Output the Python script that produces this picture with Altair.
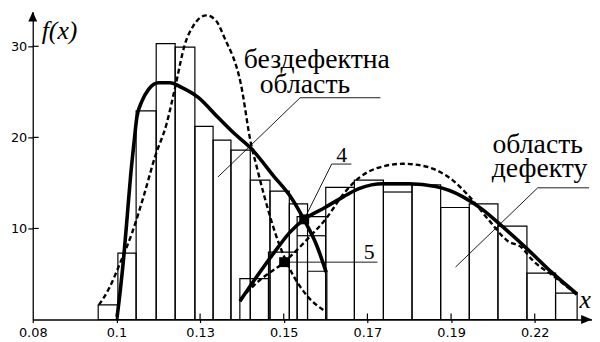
import altair as alt
import pandas as pd

# ---- axes ----
x_ticks = [0.08, 0.1025, 0.125, 0.1475, 0.17, 0.1925, 0.215]
x_tick_labels = ["0.08", "0.1", "0.13", "0.15", "0.17", "0.19", "0.22"]
y_ticks = [10, 20, 30]
x_min, x_max = 0.08, 0.2304
y_min, y_max = 0, 33.8

# ---- histogram 1 (defect-free region) ----
h1_left = [0.0976, 0.1029, 0.1078, 0.1132, 0.1183, 0.1236, 0.1285, 0.1333, 0.1385, 0.1438, 0.1490, 0.1539]
h1_right = [0.1029, 0.1078, 0.1132, 0.1183, 0.1236, 0.1285, 0.1333, 0.1385, 0.1438, 0.1490, 0.1539, 0.1591]
h1_top = [1.6, 7.3, 22.9, 30.3, 29.9, 21.2, 19.7, 18.6, 15.3, 14.1, 12.7, 5.3]

# ---- histogram 2 (defect region) ----
h2_left = [0.1357, 0.1434, 0.1511, 0.1588, 0.1665, 0.1743, 0.1820, 0.1897, 0.1974, 0.2051, 0.2129, 0.2206]
h2_right = [0.1434, 0.1511, 0.1588, 0.1665, 0.1743, 0.1820, 0.1897, 0.1974, 0.2051, 0.2129, 0.2206, 0.2264]
h2_top = [4.5, 7.4, 11.3, 14.5, 15.3, 14.8, 14.8, 12.3, 12.7, 10.25, 5.1, 2.9]
# inner bin lines of histogram 2
h2b_left = [0.1511, 0.1743]
h2b_right = [0.1588, 0.1820]
h2b_top = [9.2, 14.0]

# ---- fitted curves ----
c1_x = [0.1027, 0.1036, 0.1045, 0.1054, 0.1063, 0.1072, 0.1080, 0.1094, 0.1112, 0.1138, 0.1169,
        0.1200, 0.1245, 0.1298, 0.1340, 0.1387, 0.1449, 0.1493, 0.1529, 0.1564, 0.1589]
c1_y = [0.3, 3.4, 7.0, 11.3, 15.7, 19.3, 22.2, 24.0, 25.3, 26.0, 26.0,
        25.5, 24.4, 22.2, 20.5, 18.8, 15.7, 13.5, 11.0, 8.1, 5.2]

d1_x = [0.0978, 0.1005, 0.1036, 0.1067, 0.1098, 0.1129, 0.1160, 0.1183, 0.1209, 0.1231, 0.1267,
        0.1293, 0.1316, 0.1360, 0.1386, 0.1404, 0.1423, 0.1458, 0.1492, 0.1538, 0.1583]
d1_y = [1.6, 3.4, 6.3, 9.5, 13.5, 17.9, 21.5, 25.5, 30.2, 32.2, 33.4,
        32.8, 30.9, 25.8, 19.5, 16.5, 13.5, 8.8, 5.5, 2.6, 1.0]

c2_x = [0.1357, 0.1404, 0.1450, 0.1492, 0.1530, 0.1586, 0.1636, 0.1679, 0.1743, 0.1812, 0.1884,
        0.1956, 0.2009, 0.2062, 0.2131, 0.2195, 0.2264]
c2_y = [2.0, 4.8, 7.4, 9.6, 11.0, 12.3, 13.5, 14.4, 14.9, 14.9, 14.6,
        13.5, 12.1, 10.25, 7.7, 5.2, 2.8]

d2_x = [0.1359, 0.1410, 0.1476, 0.1538, 0.1591, 0.1636, 0.1679, 0.1724, 0.1796, 0.1857, 0.1929,
        0.1972, 0.2025, 0.2078, 0.2115, 0.2142, 0.2203, 0.2264]
d2_y = [2.3, 4.3, 6.3, 8.8, 11.2, 13.8, 15.6, 16.6, 17.1, 16.8, 15.3,
        13.6, 11.0, 8.6, 7.9, 6.6, 4.7, 2.7]

# ---- markers (points 4 and 5) ----
mk_x = [0.1530, 0.1476]
mk_y = [11.0, 6.3]

# ---- annotations ----
txt = ["бездефектна", "область", "область", "дефекту", "4", "5"]
txt_x = [0.1564, 0.1532, 0.2158, 0.2163, 0.1631, 0.1705]
txt_y = [27.6, 24.9, 18.3, 15.65, 17.3, 6.6]
txt_size = [28, 28, 28, 28, 22, 22]

lead_x = [0.1519, 0.1519, 0.1604, 0.1604, 0.1476, 0.2158, 0.2158]
lead_x2 = [0.1735, 0.1298, 0.1657, 0.1530, 0.1727, 0.2296, 0.1937]
lead_y = [24.35, 24.35, 17.07, 17.07, 6.3, 14.46, 14.46]
lead_y2 = [24.35, 15.65, 17.07, 11.0, 6.3, 14.46, 5.76]

SERIF = "Liberation Serif"

X = alt.X("x:Q", scale=alt.Scale(domain=[x_min, x_max], nice=False, zero=False),
          axis=alt.Axis(values=x_ticks, title=None, grid=False,
                        labelExpr="[" + ",".join("'%s'" % s for s in x_tick_labels) + "][round((datum.value-0.08)/0.0225)]",
                        tickSize=3, labelPadding=4, labelFlush=False))
Y = alt.Y("y:Q", scale=alt.Scale(domain=[y_min, y_max], nice=False),
          axis=alt.Axis(values=y_ticks, title=None, grid=False, tickSize=5, labelPadding=1))

h1 = pd.DataFrame({"x": h1_left, "x2": h1_right, "y": [0] * len(h1_top), "y2": h1_top})
h2 = pd.DataFrame({"x": h2_left, "x2": h2_right, "y": [0] * len(h2_top), "y2": h2_top})
h2b = pd.DataFrame({"x": h2b_left, "x2": h2b_right, "y": h2b_top, "y2": h2b_top})

def bars(df):
    return alt.Chart(df).mark_rect(fillOpacity=0, stroke="black", strokeWidth=1.2).encode(
        x=X, x2="x2:Q", y=Y, y2="y2:Q")

layers = [bars(h1), bars(h2),
          alt.Chart(h2b).mark_rule(color="black", strokeWidth=1.2).encode(x=X, x2="x2:Q", y=Y)]

def curve(xs, ys, dashed):
    df = pd.DataFrame({"x": xs, "y": ys, "o": list(range(len(xs)))})
    kw = dict(color="black", interpolate="monotone")
    if dashed:
        kw.update(strokeWidth=2.4, strokeDash=[5, 3])
    else:
        kw.update(strokeWidth=3.6)
    return alt.Chart(df).mark_line(**kw).encode(x=X, y=Y, order="o:Q")

layers += [curve(d1_x, d1_y, True), curve(d2_x, d2_y, True),
           curve(c1_x, c1_y, False), curve(c2_x, c2_y, False)]

mk = pd.DataFrame({"x": mk_x, "y": mk_y})
layers.append(alt.Chart(mk).mark_point(shape="square", size=100, filled=True, color="black", opacity=1)
              .encode(x=X, y=Y))

ld = pd.DataFrame({"x": lead_x, "x2": lead_x2, "y": lead_y, "y2": lead_y2})
layers.append(alt.Chart(ld).mark_rule(color="black", strokeWidth=0.9).encode(x=X, x2="x2:Q", y=Y, y2="y2:Q"))

# inner parts of ticks
xt = pd.DataFrame({"x": x_ticks[1:], "y": [0] * (len(x_ticks) - 1), "y2": [0.65] * (len(x_ticks) - 1)})
layers.append(alt.Chart(xt).mark_rule(color="black", strokeWidth=1.2).encode(x=X, y=Y, y2="y2:Q"))
yt = pd.DataFrame({"x": [x_min] * len(y_ticks), "x2": [0.0816] * len(y_ticks), "y": y_ticks})
layers.append(alt.Chart(yt).mark_rule(color="black", strokeWidth=1.2).encode(x=X, x2="x2:Q", y=Y))

for t, tx, ty, ts in zip(txt, txt_x, txt_y, txt_size):
    layers.append(alt.Chart(pd.DataFrame({"x": [tx], "y": [ty], "t": [t]})).mark_text(
        font=SERIF, fontSize=ts, baseline="alphabetic", align="center", color="black"
    ).encode(x=X, y=Y, text="t:N"))

# axis titles f(x) and x
for t, tx, ty in [("f(x)", 0.0872, 30.8), ("x", 0.2286, 1.3)]:
    layers.append(alt.Chart(pd.DataFrame({"x": [tx], "y": [ty], "t": [t]})).mark_text(
        font=SERIF, fontSize=26, fontStyle="italic", baseline="alphabetic",
        align="center", color="black").encode(x=X, y=Y, text="t:N"))

# axis arrows
layers.append(alt.Chart(pd.DataFrame({"x": [x_min], "y": [y_max]})).mark_point(
    shape="M0,0L0.9,2L-0.9,2Z", size=100, filled=True, color="black", opacity=1).encode(x=X, y=Y))
layers.append(alt.Chart(pd.DataFrame({"x": [x_max], "y": [0]})).mark_point(
    shape="M0,0L-2.2,0.9L-2.2,-0.9Z", size=100, filled=True, color="black", opacity=1).encode(x=X, y=Y))

chart = alt.layer(*layers).properties(
    width=565, height=311,
    autosize=alt.AutoSizeParams(type="none"),
    padding={"left": 25, "top": 2, "right": 0, "bottom": 22},
    background="white",
).configure_view(stroke=None).configure_axis(
    domainColor="black", domainWidth=1.3, tickColor="black", tickWidth=1.2,
    labelFont="DejaVu Sans", labelFontSize=13, labelColor="black",
)

chart.save("out.html", embed_options={"renderer": "svg", "actions": False})
